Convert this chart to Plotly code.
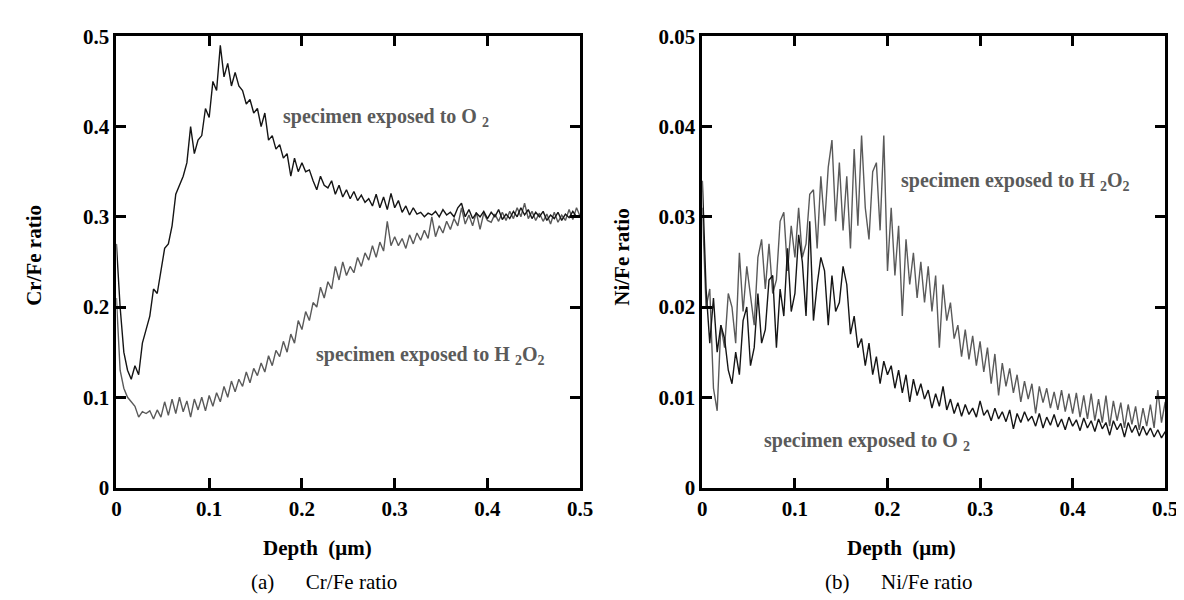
import plotly.graph_objects as go

# ---------------- data ----------------
depth = [round(i * 0.004, 3) for i in range(126)]  # sampling grid (µm)

cr_o2 = [0.27, 0.20, 0.15, 0.13, 0.12, 0.135, 0.125, 0.16, 0.175, 0.19,
         0.22, 0.215, 0.24, 0.265, 0.27, 0.29, 0.325, 0.335, 0.345, 0.36,
         0.40, 0.37, 0.385, 0.39, 0.42, 0.41, 0.45, 0.44, 0.49, 0.455,
         0.47, 0.445, 0.46, 0.445, 0.44, 0.425, 0.43, 0.415, 0.42, 0.40,
         0.415, 0.385, 0.39, 0.375, 0.38, 0.365, 0.37, 0.345, 0.365, 0.35,
         0.36, 0.35, 0.352, 0.34, 0.33, 0.345, 0.335, 0.332, 0.34, 0.325,
         0.335, 0.322, 0.33, 0.32, 0.328, 0.318, 0.324, 0.316, 0.32, 0.312,
         0.325, 0.31, 0.322, 0.308, 0.326, 0.31, 0.318, 0.305, 0.312, 0.302,
         0.31, 0.303, 0.305, 0.30, 0.304, 0.302, 0.306, 0.30, 0.308, 0.302,
         0.305, 0.30, 0.31, 0.315, 0.30, 0.308, 0.298, 0.304, 0.30, 0.306,
         0.298, 0.305, 0.30, 0.308, 0.297, 0.303, 0.298, 0.306, 0.30, 0.31,
         0.302, 0.308, 0.298, 0.305, 0.30, 0.306, 0.296, 0.302, 0.298, 0.305,
         0.296, 0.303, 0.299, 0.306, 0.30, 0.30]

cr_h2o2 = [0.21, 0.13, 0.11, 0.10, 0.095, 0.09, 0.078, 0.084, 0.082, 0.085,
           0.076, 0.086, 0.078, 0.095, 0.08, 0.098, 0.082, 0.10, 0.084, 0.096,
           0.078, 0.098, 0.086, 0.10, 0.085, 0.102, 0.09, 0.105, 0.095, 0.112,
           0.10, 0.118, 0.106, 0.12, 0.112, 0.128, 0.116, 0.132, 0.124, 0.138,
           0.128, 0.146, 0.135, 0.152, 0.145, 0.162, 0.15, 0.17, 0.16, 0.185,
           0.175, 0.195, 0.185, 0.205, 0.20, 0.222, 0.21, 0.228, 0.22, 0.245,
           0.23, 0.25, 0.235, 0.245, 0.238, 0.255, 0.245, 0.26, 0.252, 0.268,
           0.255, 0.272, 0.262, 0.295, 0.268, 0.278, 0.268, 0.276, 0.265, 0.28,
           0.27, 0.282, 0.274, 0.285, 0.276, 0.30, 0.278, 0.29, 0.282, 0.295,
           0.286, 0.298, 0.29, 0.31, 0.292, 0.302, 0.29, 0.305, 0.286, 0.304,
           0.296, 0.294, 0.303, 0.295, 0.305, 0.296, 0.306, 0.298, 0.31, 0.30,
           0.315, 0.298, 0.306, 0.296, 0.304, 0.295, 0.303, 0.292, 0.305, 0.294,
           0.302, 0.296, 0.308, 0.297, 0.31, 0.30]

ni_o2 = [0.034, 0.022, 0.016, 0.021, 0.015, 0.018, 0.0165, 0.013, 0.0115, 0.015,
         0.0125, 0.0185, 0.02, 0.0135, 0.0155, 0.0215, 0.016, 0.0175, 0.023, 0.0235,
         0.0155, 0.022, 0.019, 0.0265, 0.0195, 0.0215, 0.028, 0.025, 0.019, 0.0295,
         0.0185, 0.0225, 0.0255, 0.024, 0.018, 0.0235, 0.0195, 0.0205, 0.0245, 0.0225,
         0.017, 0.019, 0.0155, 0.0165, 0.0135, 0.016, 0.0125, 0.0145, 0.0115, 0.014,
         0.0125, 0.0135, 0.011, 0.013, 0.0105, 0.0125, 0.0095, 0.012, 0.0102, 0.0115,
         0.0098, 0.0108, 0.0088, 0.0104, 0.009, 0.0112, 0.0086, 0.0098, 0.0082, 0.0094,
         0.0079, 0.0092, 0.0081, 0.0088, 0.0078, 0.0096, 0.008, 0.0086, 0.0074, 0.0088,
         0.0076, 0.0084, 0.0073, 0.0086, 0.0065, 0.0082, 0.0072, 0.0084, 0.0074, 0.0079,
         0.0068, 0.0082, 0.0066, 0.0078, 0.0069, 0.0081, 0.0067, 0.0076, 0.0064, 0.0078,
         0.0068, 0.0075, 0.0063, 0.0077, 0.0066, 0.0074, 0.0062, 0.0076, 0.0065, 0.0072,
         0.0058, 0.0074, 0.0064, 0.0071, 0.0056, 0.0072, 0.0061, 0.0069, 0.0057, 0.0068,
         0.0058, 0.0066, 0.0056, 0.0064, 0.0055, 0.0062]

ni_h2o2 = [0.031, 0.02, 0.022, 0.011, 0.0085, 0.018, 0.0155, 0.0215, 0.02, 0.016,
           0.026, 0.0195, 0.0245, 0.021, 0.018, 0.0255, 0.0275, 0.022, 0.027, 0.0215,
           0.023, 0.0295, 0.0305, 0.024, 0.029, 0.0255, 0.031, 0.0255, 0.027, 0.0325,
           0.033, 0.0265, 0.0345, 0.029, 0.0355, 0.0385, 0.0295, 0.036, 0.0285, 0.0345,
           0.0265, 0.0375, 0.029, 0.039, 0.031, 0.0275, 0.035, 0.036, 0.0285, 0.039,
           0.024, 0.031, 0.0235, 0.029, 0.019, 0.0275, 0.0225, 0.026, 0.021, 0.025,
           0.0205, 0.0245, 0.0195, 0.0235, 0.0155, 0.0225, 0.0185, 0.0205, 0.0165, 0.018,
           0.0145, 0.0175, 0.0142, 0.0168, 0.0135, 0.0162, 0.0128, 0.0155, 0.0115, 0.0148,
           0.0102, 0.0138, 0.0112, 0.0132, 0.0105, 0.0125, 0.0095, 0.0118, 0.0098, 0.0115,
           0.0082, 0.0112, 0.0094, 0.011, 0.0088, 0.0106, 0.0086, 0.0108, 0.0084, 0.0104,
           0.0082, 0.0105, 0.0078, 0.0102, 0.0076, 0.0104, 0.0074, 0.0098, 0.0072, 0.0102,
           0.0068, 0.0096, 0.0074, 0.0094, 0.0066, 0.0092, 0.007, 0.009, 0.0064, 0.0088,
           0.0068, 0.0092, 0.0066, 0.0108, 0.0072, 0.0095]

x_ticks = [0, 0.1, 0.2, 0.3, 0.4, 0.5]
x_ticktext = ["0", "0.1", "0.2", "0.3", "0.4", "0.5"]
cr_ticks = [0, 0.1, 0.2, 0.3, 0.4, 0.5]
cr_ticktext = ["0", "0.1", "0.2", "0.3", "0.4", "0.5"]
ni_ticks = [0, 0.01, 0.02, 0.03, 0.04, 0.05]
ni_ticktext = ["0", "0.01", "0.02", "0.03", "0.04", "0.05"]

# ---------------- styling ----------------
SERIF = "Liberation Serif, Times New Roman, serif"
DARK = "#151515"
GRAY = "#5a5a5a"
W, H = 1184, 600


def b(t):
    return "<b>" + t + "</b>"


fig = go.Figure()
fig.add_trace(go.Scatter(x=depth, y=cr_h2o2, mode="lines", line=dict(color=GRAY, width=1.4),
                         xaxis="x", yaxis="y", showlegend=False))
fig.add_trace(go.Scatter(x=depth, y=cr_o2, mode="lines", line=dict(color=DARK, width=1.4),
                         xaxis="x", yaxis="y", showlegend=False))
fig.add_trace(go.Scatter(x=depth, y=ni_h2o2, mode="lines", line=dict(color=GRAY, width=1.4),
                         xaxis="x2", yaxis="y2", showlegend=False))
fig.add_trace(go.Scatter(x=depth, y=ni_o2, mode="lines", line=dict(color=DARK, width=1.4),
                         xaxis="x2", yaxis="y2", showlegend=False))

tickfont = dict(family=SERIF, size=21, color="black")
common = dict(showline=True, linewidth=3, linecolor="black", mirror="allticks",
              ticks="inside", ticklen=10, tickwidth=3, tickcolor="black",
              showgrid=False, zeroline=False, tickfont=tickfont)

ybot, ytop = 1 - 487 / H, 1 - 17 / H
fig.update_layout(
    width=W, height=H, margin=dict(l=0, r=0, t=0, b=0), autosize=False,
    plot_bgcolor="white", paper_bgcolor="white",
    xaxis=dict(domain=[105 / W, 576 / W], range=[0, 0.5], tickvals=x_ticks,
               ticktext=[b(t) for t in x_ticktext], anchor="y", **common),
    yaxis=dict(domain=[ybot, ytop], range=[0, 0.5], tickvals=cr_ticks,
               ticktext=[b(t) for t in cr_ticktext], anchor="x", **common),
    xaxis2=dict(domain=[700 / W, 1170 / W], range=[0, 0.5], tickvals=x_ticks,
                ticktext=[b(t) for t in x_ticktext], anchor="y2", **common),
    yaxis2=dict(domain=[ybot, ytop], range=[0, 0.05], tickvals=ni_ticks,
                ticktext=[b(t) for t in ni_ticktext], anchor="x2", **common),
)

title_font = dict(family=SERIF, size=21, color="black")
ann_font = dict(family=SERIF, size=20, color=GRAY)
cap_font = dict(family=SERIF, size=21, color="black")


def px(xp, yp):
    return xp / W, 1 - yp / H


anns = []
for xp, yp, txt, ang in [(309, 550, "Depth  (\u03bcm)", 0), (902, 550, "Depth  (\u03bcm)", 0),
                         (22, 245, "Cr/Fe ratio", -90), (619, 247, "Ni/Fe ratio", -90)]:
    ax_, ay_ = px(xp, yp)
    anns.append(dict(x=ax_, y=ay_, xref="paper", yref="paper", text=b(txt), showarrow=False,
                     font=title_font, textangle=ang, xanchor="center", yanchor="middle"))
for xp, txt in [(316, "(a)\u2003\u2002Cr/Fe ratio"), (900, "(b)\u2003\u2002Ni/Fe ratio")]:
    ax_, ay_ = px(xp, 585)
    anns.append(dict(x=ax_, y=ay_, xref="paper", yref="paper", text=txt, showarrow=False,
                     font=cap_font, xanchor="center", yanchor="middle"))
anns += [
    dict(x=0.177, y=0.41, xref="x", yref="y", text=b("specimen exposed to O <sub>2</sub>"),
         showarrow=False, font=ann_font, xanchor="left", yanchor="middle"),
    dict(x=0.213, y=0.146, xref="x", yref="y", text=b("specimen exposed to H <sub>2</sub>O<sub>2</sub>"),
         showarrow=False, font=ann_font, xanchor="left", yanchor="middle"),
    dict(x=0.2128, y=0.0339, xref="x2", yref="y2", text=b("specimen exposed to H <sub>2</sub>O<sub>2</sub>"),
         showarrow=False, font=ann_font, xanchor="left", yanchor="middle"),
    dict(x=0.064, y=0.0051, xref="x2", yref="y2", text=b("specimen exposed to O <sub>2</sub>"),
         showarrow=False, font=ann_font, xanchor="left", yanchor="middle"),
]
fig.update_layout(annotations=anns)

fig.write_html("out.html")
